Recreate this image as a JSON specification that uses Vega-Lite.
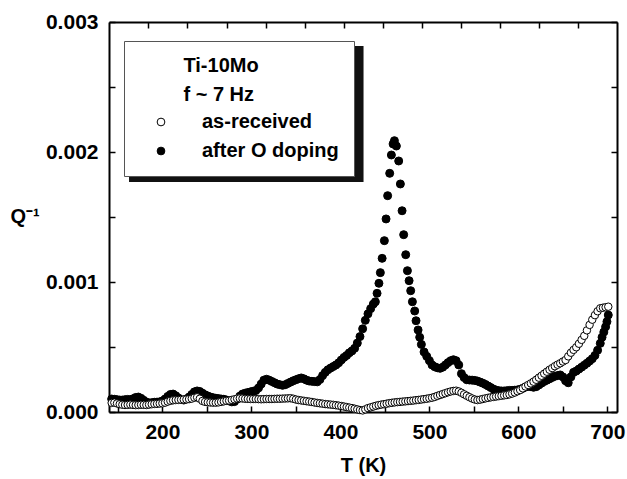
{
  "$schema": "https://vega.github.io/schema/vega-lite/v6.json",
  "width": 508,
  "height": 390,
  "autosize": {"type": "none"},
  "padding": {"left": 109, "top": 22, "right": 10, "bottom": 67},
  "background": "white",
  "config": {
    "view": {"stroke": null},
    "font": "Liberation Sans",
    "axis": {
      "labelFont": "Liberation Sans", "labelFontSize": 21, "labelFontWeight": "bold", "labelColor": "black",
      "titleFont": "Liberation Sans", "titleFontSize": 20, "titleFontWeight": "bold", "titleColor": "black",
      "domainColor": "black", "domainWidth": 2, "tickColor": "black", "tickWidth": 1.5, "tickSize": -6,
      "grid": false, "labelOverlap": false, "labelFlush": false
    },
    "legend": {
      "padding": 15, "fillColor": "white", "strokeColor": "#555", "strokeWidth": 1,
      "titleFont": "Liberation Sans", "titleFontSize": 20, "titleFontWeight": "bold", "titleColor": "black",
      "titleLineHeight": 29, "titlePadding": 7, "titleLimit": 400,
      "labelFont": "Liberation Sans", "labelFontSize": 20, "labelFontWeight": "bold", "labelColor": "black", "labelLimit": 300,
      "symbolSize": 60, "symbolStrokeColor": "black", "symbolStrokeWidth": 1, "symbolType": "circle",
      "symbolOffset": 12, "labelOffset": 31, "rowPadding": 9
    }
  },
  "datasets": {
    "doped": [
      {"T":143,"Q":1.00e-4},{"T":146,"Q":0.98e-4},{"T":149,"Q":0.95e-4},{"T":152,"Q":0.92e-4},{"T":155,"Q":0.92e-4},
      {"T":158,"Q":0.95e-4},{"T":161,"Q":0.97e-4},{"T":164,"Q":0.95e-4},{"T":167,"Q":1.02e-4},{"T":170,"Q":1.12e-4},
      {"T":173,"Q":1.15e-4},{"T":176,"Q":1.05e-4},{"T":179,"Q":0.90e-4},{"T":182,"Q":0.76e-4},{"T":185,"Q":0.70e-4},
      {"T":188,"Q":0.72e-4},{"T":191,"Q":0.75e-4},{"T":194,"Q":0.76e-4},{"T":197,"Q":0.78e-4},{"T":200,"Q":0.85e-4},
      {"T":203,"Q":1.00e-4},{"T":206,"Q":1.20e-4},{"T":209,"Q":1.35e-4},{"T":212,"Q":1.38e-4},{"T":215,"Q":1.25e-4},
      {"T":218,"Q":1.08e-4},{"T":221,"Q":0.95e-4},{"T":224,"Q":0.92e-4},{"T":227,"Q":1.00e-4},{"T":230,"Q":1.15e-4},
      {"T":233,"Q":1.35e-4},{"T":236,"Q":1.55e-4},{"T":239,"Q":1.62e-4},{"T":242,"Q":1.58e-4},{"T":245,"Q":1.45e-4},
      {"T":248,"Q":1.32e-4},{"T":251,"Q":1.23e-4},{"T":254,"Q":1.15e-4},{"T":257,"Q":1.10e-4},{"T":260,"Q":1.06e-4},
      {"T":263,"Q":1.03e-4},{"T":266,"Q":1.00e-4},{"T":269,"Q":0.98e-4},{"T":272,"Q":0.92e-4},{"T":275,"Q":0.85e-4},
      {"T":278,"Q":0.78e-4},{"T":281,"Q":0.80e-4},{"T":284,"Q":1.00e-4},{"T":287,"Q":1.22e-4},{"T":290,"Q":1.38e-4},
      {"T":293,"Q":1.45e-4},{"T":296,"Q":1.50e-4},{"T":299,"Q":1.55e-4},{"T":302,"Q":1.60e-4},{"T":305,"Q":1.65e-4},
      {"T":308,"Q":1.85e-4},{"T":311,"Q":2.15e-4},{"T":314,"Q":2.45e-4},{"T":317,"Q":2.52e-4},{"T":320,"Q":2.45e-4},
      {"T":323,"Q":2.35e-4},{"T":326,"Q":2.25e-4},{"T":329,"Q":2.15e-4},{"T":332,"Q":2.10e-4},{"T":335,"Q":2.05e-4},
      {"T":338,"Q":2.10e-4},{"T":341,"Q":2.20e-4},{"T":344,"Q":2.30e-4},{"T":347,"Q":2.40e-4},{"T":350,"Q":2.48e-4},
      {"T":353,"Q":2.56e-4},{"T":356,"Q":2.62e-4},{"T":359,"Q":2.55e-4},{"T":362,"Q":2.45e-4},{"T":365,"Q":2.38e-4},
      {"T":368,"Q":2.36e-4},{"T":371,"Q":2.34e-4},{"T":374,"Q":2.32e-4},{"T":377,"Q":2.50e-4},{"T":380,"Q":2.80e-4},
      {"T":383,"Q":3.05e-4},{"T":386,"Q":3.25e-4},{"T":389,"Q":3.38e-4},{"T":392,"Q":3.50e-4},{"T":395,"Q":3.62e-4},
      {"T":398,"Q":3.78e-4},{"T":401,"Q":4.00e-4},{"T":404,"Q":4.20e-4},{"T":407,"Q":4.35e-4},{"T":410,"Q":4.55e-4},
      {"T":413,"Q":4.70e-4},{"T":416,"Q":4.90e-4},{"T":419,"Q":5.30e-4},{"T":422,"Q":5.80e-4},{"T":425,"Q":6.40e-4},
      {"T":428,"Q":7.05e-4},{"T":431,"Q":7.55e-4},{"T":434,"Q":7.95e-4},{"T":437,"Q":8.30e-4},
      {"T":439.3,"Q":8.48e-4},{"T":441.2,"Q":9.13e-4},{"T":443.3,"Q":9.90e-4},{"T":444.9,"Q":10.72e-4},{"T":446.9,"Q":11.82e-4},
      {"T":449.4,"Q":13.18e-4},{"T":451.3,"Q":14.85e-4},{"T":453.1,"Q":16.64e-4},{"T":455.4,"Q":18.36e-4},{"T":457.3,"Q":19.77e-4},
      {"T":459.2,"Q":20.62e-4},{"T":460.7,"Q":20.87e-4},{"T":462.9,"Q":20.46e-4},{"T":465.5,"Q":19.31e-4},{"T":467.4,"Q":17.54e-4},
      {"T":469.3,"Q":15.48e-4},{"T":471.1,"Q":13.64e-4},{"T":473.4,"Q":12.10e-4},{"T":475.3,"Q":10.87e-4},{"T":477.2,"Q":10.10e-4},
      {"T":479.0,"Q":9.33e-4},{"T":480.9,"Q":8.48e-4},{"T":483.5,"Q":7.77e-4},{"T":485.0,"Q":7.02e-4},{"T":487.3,"Q":6.31e-4},
      {"T":489.1,"Q":5.75e-4},
      {"T":491,"Q":5.20e-4},{"T":494,"Q":4.62e-4},{"T":497,"Q":4.28e-4},{"T":500,"Q":3.95e-4},{"T":503,"Q":3.62e-4},
      {"T":506,"Q":3.48e-4},{"T":509,"Q":3.40e-4},{"T":512,"Q":3.36e-4},{"T":515,"Q":3.45e-4},{"T":518,"Q":3.62e-4},
      {"T":521,"Q":3.80e-4},{"T":524,"Q":3.95e-4},{"T":527,"Q":4.02e-4},{"T":530,"Q":3.95e-4},{"T":533,"Q":3.62e-4},
      {"T":536,"Q":2.95e-4},{"T":539,"Q":2.65e-4},{"T":542,"Q":2.48e-4},{"T":545,"Q":2.46e-4},{"T":548,"Q":2.45e-4},
      {"T":551,"Q":2.43e-4},{"T":554,"Q":2.38e-4},{"T":557,"Q":2.30e-4},{"T":560,"Q":2.22e-4},{"T":563,"Q":2.12e-4},
      {"T":566,"Q":2.00e-4},{"T":569,"Q":1.88e-4},{"T":572,"Q":1.76e-4},{"T":575,"Q":1.68e-4},{"T":578,"Q":1.64e-4},
      {"T":581,"Q":1.62e-4},{"T":584,"Q":1.62e-4},{"T":587,"Q":1.64e-4},{"T":590,"Q":1.66e-4},{"T":593,"Q":1.66e-4},
      {"T":596,"Q":1.68e-4},{"T":599,"Q":1.70e-4},{"T":602,"Q":1.75e-4},{"T":605,"Q":1.82e-4},{"T":608,"Q":1.92e-4},
      {"T":611,"Q":1.98e-4},{"T":614,"Q":1.95e-4},{"T":617,"Q":1.90e-4},{"T":620,"Q":1.95e-4},{"T":623,"Q":2.08e-4},
      {"T":626,"Q":2.22e-4},{"T":629,"Q":2.35e-4},{"T":632,"Q":2.45e-4},{"T":635,"Q":2.55e-4},{"T":638,"Q":2.66e-4},
      {"T":641,"Q":2.75e-4},{"T":644,"Q":2.80e-4},{"T":647,"Q":2.85e-4},{"T":650,"Q":2.70e-4},{"T":653,"Q":2.40e-4},
      {"T":656,"Q":2.25e-4},{"T":659,"Q":2.70e-4},{"T":662,"Q":3.05e-4},{"T":665,"Q":3.15e-4},{"T":668,"Q":3.30e-4},
      {"T":671,"Q":3.45e-4},{"T":674,"Q":3.60e-4},{"T":677,"Q":3.75e-4},{"T":680,"Q":3.92e-4},{"T":683,"Q":4.10e-4},
      {"T":686,"Q":4.35e-4},{"T":689,"Q":4.75e-4},{"T":692,"Q":5.28e-4},{"T":694,"Q":5.75e-4},{"T":696,"Q":6.15e-4},
      {"T":698,"Q":6.55e-4},{"T":699.5,"Q":6.95e-4},{"T":701,"Q":7.46e-4}
    ],
    "received": [
      {"T":143,"Q":0.70e-4},{"T":146,"Q":0.72e-4},{"T":149,"Q":0.66e-4},{"T":152,"Q":0.60e-4},{"T":155,"Q":0.56e-4},
      {"T":158,"Q":0.54e-4},{"T":161,"Q":0.55e-4},{"T":164,"Q":0.57e-4},{"T":167,"Q":0.55e-4},{"T":170,"Q":0.53e-4},
      {"T":173,"Q":0.54e-4},{"T":176,"Q":0.56e-4},{"T":179,"Q":0.55e-4},{"T":182,"Q":0.54e-4},{"T":185,"Q":0.57e-4},
      {"T":188,"Q":0.60e-4},{"T":191,"Q":0.62e-4},{"T":194,"Q":0.63e-4},{"T":197,"Q":0.65e-4},{"T":200,"Q":0.67e-4},
      {"T":203,"Q":0.72e-4},{"T":206,"Q":0.80e-4},{"T":209,"Q":0.86e-4},{"T":212,"Q":0.90e-4},{"T":215,"Q":0.92e-4},
      {"T":218,"Q":0.93e-4},{"T":221,"Q":0.95e-4},{"T":224,"Q":0.96e-4},{"T":227,"Q":0.97e-4},{"T":230,"Q":0.99e-4},
      {"T":233,"Q":1.03e-4},{"T":236,"Q":1.10e-4},{"T":239,"Q":1.13e-4},{"T":242,"Q":1.02e-4},{"T":245,"Q":0.85e-4},
      {"T":248,"Q":0.78e-4},{"T":251,"Q":0.75e-4},{"T":254,"Q":0.73e-4},{"T":257,"Q":0.72e-4},{"T":260,"Q":0.72e-4},
      {"T":263,"Q":0.74e-4},{"T":266,"Q":0.78e-4},{"T":269,"Q":0.82e-4},{"T":272,"Q":0.86e-4},{"T":275,"Q":0.88e-4},
      {"T":278,"Q":0.93e-4},{"T":281,"Q":0.98e-4},{"T":284,"Q":1.03e-4},{"T":287,"Q":1.05e-4},{"T":290,"Q":1.04e-4},
      {"T":293,"Q":1.02e-4},{"T":296,"Q":1.01e-4},{"T":299,"Q":1.00e-4},{"T":302,"Q":1.00e-4},{"T":305,"Q":1.00e-4},
      {"T":308,"Q":0.99e-4},{"T":311,"Q":0.98e-4},{"T":314,"Q":0.99e-4},{"T":317,"Q":1.00e-4},{"T":320,"Q":1.00e-4},
      {"T":323,"Q":1.00e-4},{"T":326,"Q":1.01e-4},{"T":329,"Q":1.02e-4},{"T":332,"Q":1.02e-4},{"T":335,"Q":1.03e-4},
      {"T":338,"Q":1.04e-4},{"T":341,"Q":1.05e-4},{"T":344,"Q":1.06e-4},{"T":347,"Q":1.02e-4},{"T":350,"Q":0.96e-4},
      {"T":353,"Q":0.92e-4},{"T":356,"Q":0.89e-4},{"T":359,"Q":0.86e-4},{"T":362,"Q":0.83e-4},{"T":365,"Q":0.80e-4},
      {"T":368,"Q":0.77e-4},{"T":371,"Q":0.73e-4},{"T":374,"Q":0.70e-4},{"T":377,"Q":0.67e-4},{"T":380,"Q":0.64e-4},
      {"T":383,"Q":0.61e-4},{"T":386,"Q":0.59e-4},{"T":389,"Q":0.57e-4},{"T":392,"Q":0.55e-4},{"T":395,"Q":0.52e-4},
      {"T":398,"Q":0.49e-4},{"T":401,"Q":0.46e-4},{"T":404,"Q":0.42e-4},{"T":407,"Q":0.38e-4},{"T":410,"Q":0.34e-4},
      {"T":413,"Q":0.30e-4},{"T":416,"Q":0.25e-4},{"T":419,"Q":0.20e-4},{"T":422,"Q":0.15e-4},{"T":425,"Q":0.12e-4},
      {"T":428,"Q":0.20e-4},{"T":431,"Q":0.30e-4},{"T":434,"Q":0.36e-4},{"T":437,"Q":0.42e-4},{"T":440,"Q":0.48e-4},
      {"T":443,"Q":0.53e-4},{"T":446,"Q":0.57e-4},{"T":449,"Q":0.60e-4},{"T":452,"Q":0.64e-4},{"T":455,"Q":0.68e-4},
      {"T":458,"Q":0.71e-4},{"T":461,"Q":0.74e-4},{"T":464,"Q":0.76e-4},{"T":467,"Q":0.78e-4},{"T":470,"Q":0.80e-4},
      {"T":473,"Q":0.82e-4},{"T":476,"Q":0.84e-4},{"T":479,"Q":0.86e-4},{"T":482,"Q":0.88e-4},{"T":485,"Q":0.91e-4},
      {"T":488,"Q":0.93e-4},{"T":491,"Q":0.96e-4},{"T":494,"Q":0.99e-4},{"T":497,"Q":1.02e-4},{"T":500,"Q":1.06e-4},
      {"T":503,"Q":1.10e-4},{"T":506,"Q":1.16e-4},{"T":509,"Q":1.24e-4},{"T":512,"Q":1.31e-4},{"T":515,"Q":1.38e-4},
      {"T":518,"Q":1.45e-4},{"T":521,"Q":1.52e-4},{"T":524,"Q":1.58e-4},{"T":527,"Q":1.62e-4},{"T":530,"Q":1.64e-4},
      {"T":533,"Q":1.58e-4},{"T":536,"Q":1.48e-4},{"T":539,"Q":1.36e-4},{"T":542,"Q":1.25e-4},{"T":545,"Q":1.14e-4},
      {"T":548,"Q":1.04e-4},{"T":551,"Q":0.96e-4},{"T":554,"Q":0.92e-4},{"T":557,"Q":0.95e-4},{"T":560,"Q":1.00e-4},
      {"T":563,"Q":1.05e-4},{"T":566,"Q":1.09e-4},{"T":569,"Q":1.13e-4},{"T":572,"Q":1.16e-4},{"T":575,"Q":1.19e-4},
      {"T":578,"Q":1.22e-4},{"T":581,"Q":1.25e-4},{"T":584,"Q":1.28e-4},{"T":587,"Q":1.31e-4},{"T":590,"Q":1.36e-4},
      {"T":593,"Q":1.42e-4},{"T":596,"Q":1.50e-4},{"T":599,"Q":1.60e-4},{"T":602,"Q":1.69e-4},{"T":605,"Q":1.82e-4},
      {"T":608,"Q":1.96e-4},{"T":611,"Q":2.08e-4},{"T":614,"Q":2.20e-4},{"T":617,"Q":2.33e-4},{"T":620,"Q":2.48e-4},
      {"T":623,"Q":2.64e-4},{"T":626,"Q":2.79e-4},{"T":629,"Q":2.95e-4},{"T":632,"Q":3.10e-4},{"T":635,"Q":3.25e-4},
      {"T":638,"Q":3.38e-4},{"T":641,"Q":3.52e-4},{"T":644,"Q":3.64e-4},{"T":647,"Q":3.75e-4},{"T":650,"Q":3.88e-4},
      {"T":653,"Q":4.00e-4},{"T":656,"Q":4.28e-4},{"T":659,"Q":4.56e-4},{"T":662,"Q":4.78e-4},{"T":665,"Q":4.98e-4},
      {"T":668,"Q":5.25e-4},{"T":671,"Q":5.55e-4},{"T":674,"Q":5.86e-4},{"T":677,"Q":6.28e-4},{"T":680,"Q":6.70e-4},
      {"T":683,"Q":7.10e-4},{"T":686,"Q":7.45e-4},{"T":689,"Q":7.75e-4},{"T":692,"Q":7.98e-4},{"T":695,"Q":8.02e-4},
      {"T":698,"Q":8.06e-4},{"T":701,"Q":8.10e-4}
    ]
  },
  "layer": [
    {
      "data": {"values": [{}]},
      "mark": {"type": "rect", "color": "#111111"},
      "encoding": {
        "x": {"datum": 162.5, "type": "quantitative", "scale": {"domain": [140, 710.8], "nice": false, "zero": false}, "axis": null},
        "x2": {"datum": 426},
        "y": {"datum": 0.0028154, "type": "quantitative", "scale": {"domain": [0, 0.003], "nice": false}, "axis": null},
        "y2": {"datum": 0.0017692}
      }
    },
    {
      "data": {"name": "doped"},
      "mark": {"type": "point", "filled": true, "size": 64, "stroke": "black", "strokeWidth": 1, "opacity": 1},
      "encoding": {
        "x": {
          "field": "T", "type": "quantitative",
          "scale": {"domain": [140, 710.8], "nice": false, "zero": false},
          "axis": {
            "orient": "bottom", "values": [150, 200, 250, 300, 350, 400, 450, 500, 550, 600, 650, 700],
            "labelExpr": "datum.value % 100 === 0 ? datum.label : ''",
            "labelPadding": 15, "title": "T (K)", "titleY": 59.5, "titleBaseline": "alphabetic"
          }
        },
        "y": {
          "field": "Q", "type": "quantitative",
          "scale": {"domain": [0, 0.003], "nice": false},
          "axis": {
            "orient": "left", "values": [0, 0.0005, 0.001, 0.0015, 0.002, 0.0025, 0.003],
            "labelExpr": "round(datum.value * 2000) % 2 === 0 ? format(datum.value, '.3f') : ''",
            "labelPadding": 17, "title": "Q⁻¹", "titleAngle": 0, "titleX": -99, "titleY": 200,
            "titleAlign": "left", "titleBaseline": "alphabetic"
          }
        },
        "fill": {
          "datum": "after O doping", "type": "nominal",
          "scale": {"domain": ["as-received", "after O doping"], "range": ["white", "black"]},
          "legend": {"orient": "none", "legendX": 15, "legendY": 19,
            "title": ["\u200b\u00a0\u00a0\u00a0\u00a0\u00a0\u00a0\u00a0\u00a0Ti-10Mo", "\u200b\u00a0\u00a0\u00a0\u00a0\u00a0\u00a0\u00a0\u00a0f ~ 7 Hz"]}
        }
      }
    },
    {
      "data": {"name": "received"},
      "mark": {"type": "point", "filled": true, "size": 56, "stroke": "black", "strokeWidth": 1, "opacity": 1},
      "encoding": {
        "x": {
          "field": "T", "type": "quantitative",
          "scale": {"domain": [140, 710.8], "nice": false, "zero": false},
          "axis": {
            "orient": "top", "values": [184.3, 228.2, 272.1, 316.0, 359.8, 403.7, 447.6, 491.5, 535.4, 579.3, 623.2, 667.0],
            "labels": false, "title": null
          }
        },
        "y": {
          "field": "Q", "type": "quantitative",
          "scale": {"domain": [0, 0.003], "nice": false},
          "axis": {
            "orient": "right", "values": [0, 0.0005, 0.001, 0.0015, 0.002, 0.0025, 0.003],
            "labels": false, "title": null
          }
        },
        "fill": {
          "datum": "as-received", "type": "nominal",
          "scale": {"domain": ["as-received", "after O doping"], "range": ["white", "black"]},
          "legend": {"orient": "none", "legendX": 15, "legendY": 19,
            "title": ["\u200b\u00a0\u00a0\u00a0\u00a0\u00a0\u00a0\u00a0\u00a0Ti-10Mo", "\u200b\u00a0\u00a0\u00a0\u00a0\u00a0\u00a0\u00a0\u00a0f ~ 7 Hz"]}
        }
      }
    }
  ],
  "resolve": {"axis": {"x": "independent", "y": "independent"}}
}
